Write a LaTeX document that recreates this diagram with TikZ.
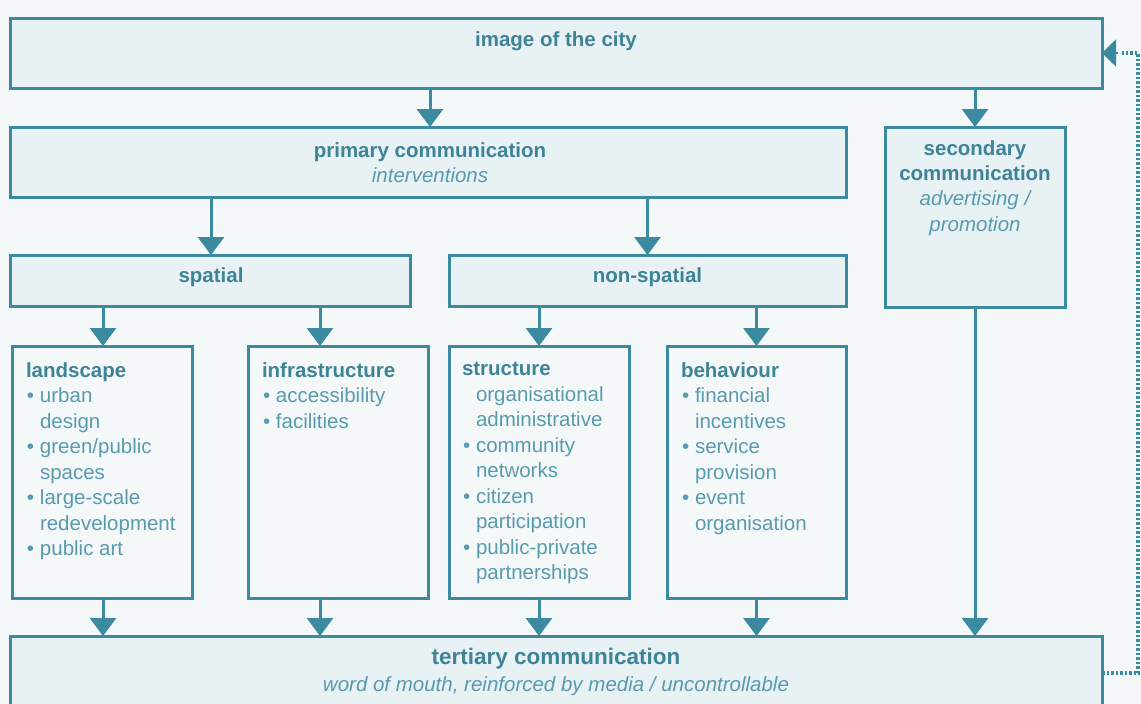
\documentclass[tikz,border=0pt]{standalone}
\usepackage{fontspec}
\setmainfont{Liberation Sans}
\usetikzlibrary{arrows.meta,calc}
\definecolor{tl}{RGB}{59,138,160}
\definecolor{fl}{RGB}{232,241,244}
\definecolor{bgc}{RGB}{245,248,249}
\definecolor{tb}{RGB}{62,132,152}
\definecolor{tr}{RGB}{88,155,175}
\newcommand{\bl}{\makebox[14pt][l]{\hspace{1pt}•}}
\newcommand{\ci}{\hspace*{14pt}}
\begin{document}
\begin{tikzpicture}[x=1pt,y=-1pt,
  box/.style={draw=tl, line width=3pt, fill=fl, anchor=north west, inner sep=0pt, outer sep=0pt},
  wbox/.style={box, fill=bgc},
  arr/.style={draw=tl, line width=3pt, -{Triangle[width=26pt,length=18pt]}, fill=tl},
  dotline/.style={draw=tl, line width=4pt, dash pattern=on 2.5pt off 2pt},
  tt/.style={inner sep=0pt, outer sep=0pt, align=center, font=\fontsize{20.5}{25.3}\selectfont, text=tb},
  lst/.style={inner sep=0pt, outer sep=0pt, anchor=north west, align=left, font=\fontsize{20.5}{25.5}\selectfont, text=tr}
]
\useasboundingbox (0,0) rectangle (1141,704);
\clip (0,0) rectangle (1141,704);
\fill[bgc] (0,0) rectangle (1141,704);

% boxes
\node[box, minimum width=1092pt, minimum height=70pt] (img) at (10,18) {};
\node[box, minimum width=836pt, minimum height=70pt] (prim) at (10,127) {};
\node[box, minimum width=180pt, minimum height=180pt] (sec) at (885,127) {};
\node[box, minimum width=400pt, minimum height=51pt] (spat) at (10,255) {};
\node[box, minimum width=397pt, minimum height=51pt] (nons) at (449,255) {};
\node[wbox, minimum width=180pt, minimum height=252pt] (land) at (12,346) {};
\node[wbox, minimum width=180pt, minimum height=252pt] (infra) at (248,346) {};
\node[wbox, minimum width=180pt, minimum height=252pt] (struc) at (449,346) {};
\node[wbox, minimum width=179pt, minimum height=252pt] (behav) at (667,346) {};
\node[box, minimum width=1092pt, minimum height=74pt] (ter) at (10,636) {};

% box texts
\node[tt, anchor=north] (imgt) at ($(img.north)+(0,13.5)$) {\bfseries image of the city};
\node[tt, anchor=north] (primt) at ($(prim.north)+(2,15.5)$) {\bfseries primary communication\\{\color{tr}\itshape interventions}};
\node[tt, anchor=north] (sect) at ($(sec.north)+(0,13.5)$) {\bfseries secondary\\\bfseries communication\\{\color{tr}\itshape advertising /}\\{\color{tr}\itshape promotion}};
\node[tt, anchor=north] (spatt) at ($(spat.north)+(1,12.5)$) {\bfseries spatial};
\node[tt, anchor=north] (nonst) at ($(nons.north)+(0,12.5)$) {\bfseries non-spatial};
\node[tt, anchor=north, font=\fontsize{22.5}{27}\selectfont] (tert) at ($(ter.north)+(0,12.5)$) {\bfseries tertiary communication\\{\fontsize{20.5}{25}\selectfont\color{tr}\itshape word of mouth, reinforced by media / uncontrollable}};

\node[lst] (landt) at ($(land.north west)+(14,16.4)$) {{\color{tb}\bfseries landscape}\\
\bl urban\\ \ci design\\ \bl green/public\\ \ci spaces\\ \bl large-scale\\ \ci redevelopment\\ \bl public art};
\node[lst] (infrat) at ($(infra.north west)+(14,16.4)$) {{\color{tb}\bfseries infrastructure}\\
\bl accessibility\\ \bl facilities};
\node[lst] (struct) at ($(struc.north west)+(13,16.4)$) {{\color{tb}\bfseries structure}\\
\ci organisational\\ \ci administrative\\ \bl community\\ \ci networks\\ \bl citizen\\ \ci participation\\ \bl public-private\\ \ci partnerships};
\node[lst] (behavt) at ($(behav.north west)+(14,16.4)$) {{\color{tb}\bfseries behaviour}\\
\bl financial\\ \ci incentives\\ \bl service\\ \ci provision\\ \bl event\\ \ci organisation};

% arrows
\draw[arr] (img.south -| prim.north) ++(2,0) -- ($(prim.north)+(2,0)$);
\draw[arr] (img.south -| sec.north) -- (sec.north);
\draw[arr] (prim.south -| spat.north) ++(1,0) -- ($(spat.north)+(1,0)$);
\draw[arr] (prim.south -| nons.north) -- (nons.north);
\draw[arr] (spat.south -| land.north) ++(1,0) -- ($(land.north)+(1,0)$);
\draw[arr] (spat.south -| infra.north) ++(-18,0) -- ($(infra.north)+(-18,0)$);
\draw[arr] (nons.south -| struc.north) -- (struc.north);
\draw[arr] (nons.south -| behav.north) -- (behav.north);
\draw[arr] ($(land.south)+(1,0)$) -- ($(ter.north -| land.south)+(1,0)$);
\draw[arr] ($(infra.south)+(-18,0)$) -- ($(ter.north -| infra.south)+(-18,0)$);
\draw[arr] (struc.south) -- (ter.north -| struc.south);
\draw[arr] (behav.south) -- (ter.north -| behav.south);
\draw[arr] (sec.south) -- (ter.north -| sec.south);

% feedback
\coordinate (fb) at (1138,0);
\draw[dotline] (ter.east) -- (ter.east -| fb) -- (img.east -| fb) -- ($(img.east)+(20,0)$);
\draw[arr, line width=2pt, -{Triangle[width=27pt,length=14pt]}] ($(img.east)+(16,0)$) -- (img.east);
\end{tikzpicture}
\end{document}
